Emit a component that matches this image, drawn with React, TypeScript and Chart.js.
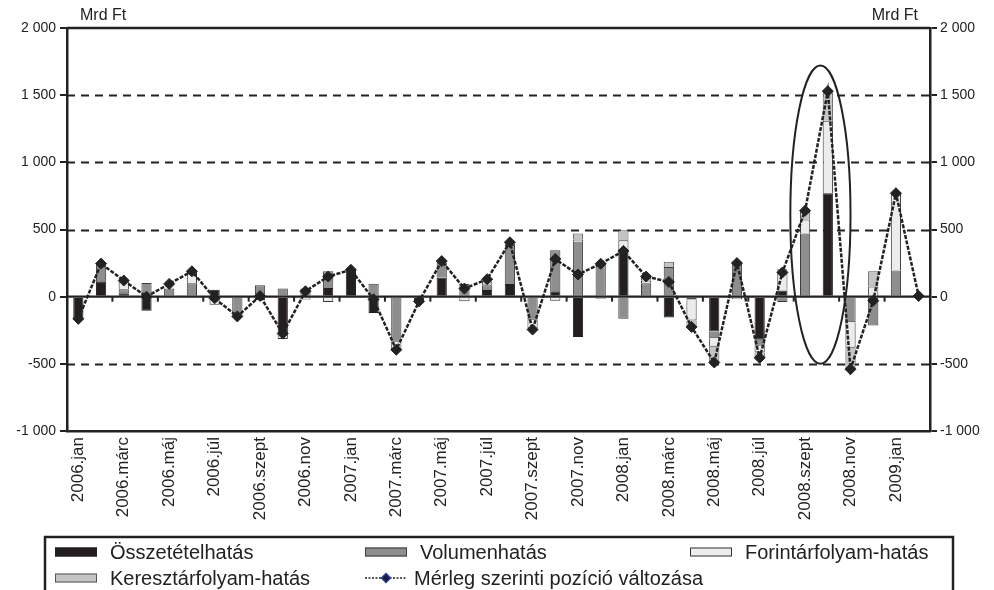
import React, { useEffect, useRef } from 'react';
import { Chart, registerables } from 'chart.js';

Chart.register(...registerables);

// ---- Data (Mrd Ft) ----
const categories = [
  '2006.jan', '2006.febr', '2006.márc', '2006.ápr', '2006.máj', '2006.jún', '2006.júl', '2006.aug', '2006.szept', '2006.okt', '2006.nov', '2006.dec',
  '2007.jan', '2007.febr', '2007.márc', '2007.ápr', '2007.máj', '2007.jún', '2007.júl', '2007.aug', '2007.szept', '2007.okt', '2007.nov', '2007.dec',
  '2008.jan', '2008.febr', '2008.márc', '2008.ápr', '2008.máj', '2008.jún', '2008.júl', '2008.aug', '2008.szept', '2008.okt', '2008.nov', '2008.dec',
  '2009.jan', '2009.febr',
];

const compositionEffect = [
  -160, 114, 25, -104, 0, 0, 52, 0, -25, -280, 0, 65,
  201, -122, 0, -30, 140, 0, 50, 95, 0, 40, -300, 0,
  355, 0, -155, -22, -260, 0, -320, 45, 0, 770, 0, -40,
  0, 5,
];

const volumeEffect = [
  0, 132, 30, 102, 60, 100, 0, -142, 85, 60, 60, 125,
  0, 97, -335, 0, 115, 95, 35, 290, -172, 305, 410, 250,
  -165, 100, 220, 0, -50, 250, -45, -40, 470, 0, -190, -175,
  195, 0,
];

const forintRateEffect = [
  0, 0, 60, 0, 0, 85, -60, 0, 0, -35, -22, -40,
  -8, 0, -60, 0, 0, -35, 0, 0, -65, -30, 15, -15,
  65, 20, 0, -155, -62, -20, -50, 130, 105, 540, -190, 75,
  580, 0,
];

const crossRateEffect = [
  0, 0, 0, 0, 0, 0, 0, 0, 0, 0, 0, 0,
  0, 0, 0, 0, 0, 0, 30, 10, 0, 0, 45, 0,
  75, 30, 40, -55, -112, 8, -35, 30, 55, 210, -160, 115,
  0, 0,
];

const positionChange = [
  -165, 246, 120, 0, 95, 189, -12, -147, 5, -275, 40, 150,
  200, -20, -395, -35, 265, 60, 130, 405, -245, 280, 165, 245,
  340, 150, 110, -225, -490, 250, -455, 180, 640, 1530, -540, -30,
  770, 5,
];

// every second month is labelled on the axis
const tickLabels = categories.map((c, i) => (i % 2 === 0 ? c : ''));

const yMin = -1000;
const yMax = 2000;
const yStep = 500;

// highlighted period (ellipse), in category index / value units
const highlightX = [31.35, 34.0];
const highlightY = [-500, 1720];

const FONT = "'Liberation Sans', Arial, Helvetica, sans-serif";
const INK = '#222222';

const fmt = (v: number) => {
  const s = Math.abs(v).toString().replace(/\B(?=(\d{3})+(?!\d))/g, ' ');
  return (v < 0 ? '-' : '') + s;
};

const seriesStyle = [
  { label: 'Összetételhatás', fill: '#231f20', stroke: '#231f20' },
  { label: 'Volumenhatás', fill: '#8e8e8e', stroke: '#3c3c3c' },
  { label: 'Forintárfolyam-hatás', fill: '#ececec', stroke: '#333333' },
  { label: 'Keresztárfolyam-hatás', fill: '#c4c4c4', stroke: '#555555' },
];

const framePlugin = {
  id: 'framePlugin',
  beforeDatasetsDraw(chart: any) {
    const { ctx, chartArea } = chart;
    const y = chart.scales.y;
    ctx.save();
    ctx.strokeStyle = INK;
    ctx.lineWidth = 2.2;
    ctx.setLineDash([8, 6]);
    y.ticks.forEach((t: any) => {
      if (t.value === 0 || t.value === yMin || t.value === yMax) return;
      const py = Math.round(y.getPixelForValue(t.value)) + 0.5;
      ctx.beginPath();
      ctx.moveTo(chartArea.left, py);
      ctx.lineTo(chartArea.right, py);
      ctx.stroke();
    });
    ctx.restore();
  },
  beforeDatasetDraw(chart: any, args: any) {
    if (args.meta.type !== 'line') return;
    const { ctx, chartArea } = chart;
    const y = chart.scales.y;
    const x = chart.scales.x;
    const py0 = y.getPixelForValue(0);
    ctx.save();
    ctx.strokeStyle = INK;
    ctx.lineWidth = 2.2;
    ctx.beginPath();
    ctx.moveTo(chartArea.left, py0);
    ctx.lineTo(chartArea.right, py0);
    ctx.stroke();
    // small tick marks on the zero line, every second category boundary
    ctx.lineWidth = 2;
    for (let i = 2; i < categories.length; i += 2) {
      const px = x.getPixelForValue(i - 0.5);
      ctx.beginPath();
      ctx.moveTo(px, py0);
      ctx.lineTo(px, py0 + 5);
      ctx.stroke();
    }
    ctx.restore();
  },
  afterDatasetsDraw(chart: any) {
    const { ctx, chartArea } = chart;
    const x = chart.scales.x;
    const y = chart.scales.y;
    ctx.save();
    // top border
    ctx.strokeStyle = INK;
    ctx.lineWidth = 2.5;
    ctx.beginPath();
    ctx.moveTo(chartArea.left, chartArea.top);
    ctx.lineTo(chartArea.right, chartArea.top);
    ctx.stroke();
    // highlight ellipse
    const x1 = x.getPixelForValue(highlightX[0]);
    const x2 = x.getPixelForValue(highlightX[1]);
    const y1 = y.getPixelForValue(highlightY[1]);
    const y2 = y.getPixelForValue(highlightY[0]);
    ctx.lineWidth = 2;
    ctx.beginPath();
    ctx.ellipse((x1 + x2) / 2, (y1 + y2) / 2, (x2 - x1) / 2, (y2 - y1) / 2, 0, 0, Math.PI * 2);
    ctx.stroke();
    ctx.restore();
  },
  afterDraw(chart: any) {
    const { ctx, chartArea, height } = chart;
    ctx.save();
    ctx.fillStyle = INK;
    ctx.font = `16px ${FONT}`;
    ctx.textBaseline = 'middle';
    ctx.textAlign = 'left';
    ctx.fillText('Mrd Ft', chartArea.left + 13, chartArea.top - 12);
    ctx.textAlign = 'right';
    ctx.fillText('Mrd Ft', chartArea.right - 12, chartArea.top - 12);

    // legend frame
    const lx1 = 45;
    const lx2 = 953;
    const ly = 537;
    ctx.strokeStyle = INK;
    ctx.lineWidth = 2.5;
    ctx.beginPath();
    ctx.moveTo(lx1, height + 2);
    ctx.lineTo(lx1, ly);
    ctx.lineTo(lx2, ly);
    ctx.lineTo(lx2, height + 2);
    ctx.stroke();

    const cols = [55, 365, 690];
    const rows = [552, 578];
    const boxW = 42;
    const boxH = 9;
    const textGap = 13;
    ctx.font = `20px ${FONT}`;
    ctx.textAlign = 'left';
    const items = [
      { col: 0, row: 0, s: seriesStyle[0] },
      { col: 1, row: 0, s: seriesStyle[1] },
      { col: 2, row: 0, s: seriesStyle[2] },
      { col: 0, row: 1, s: seriesStyle[3] },
    ];
    items.forEach(({ col, row, s }) => {
      const bx = cols[col];
      const by = rows[row];
      ctx.fillStyle = s.fill;
      ctx.fillRect(bx, by - boxH / 2, boxW, boxH);
      ctx.strokeStyle = s.stroke;
      ctx.lineWidth = 1;
      ctx.strokeRect(bx + 0.5, by - boxH / 2 + 0.5, boxW - 1, boxH - 1);
      ctx.fillStyle = INK;
      ctx.fillText(s.label, bx + boxW + textGap, by + 1);
    });
    // line sample
    const bx = cols[1];
    const by = rows[1];
    ctx.strokeStyle = INK;
    ctx.lineWidth = 1.5;
    ctx.setLineDash([2, 1.5]);
    ctx.beginPath();
    ctx.moveTo(bx, by);
    ctx.lineTo(bx + boxW, by);
    ctx.stroke();
    ctx.setLineDash([]);
    ctx.fillStyle = '#1a1a40';
    ctx.strokeStyle = '#2a3a9a';
    ctx.beginPath();
    const cx = bx + boxW / 2;
    ctx.moveTo(cx, by - 4.5);
    ctx.lineTo(cx + 4.5, by);
    ctx.lineTo(cx, by + 4.5);
    ctx.lineTo(cx - 4.5, by);
    ctx.closePath();
    ctx.fill();
    ctx.stroke();
    ctx.fillStyle = INK;
    ctx.fillText('Mérleg szerinti pozíció változása', bx + boxW + 7, by + 1);
    ctx.restore();
  },
};

export default function App() {
  const canvasRef = useRef<HTMLCanvasElement | null>(null);

  useEffect(() => {
    const canvas = canvasRef.current;
    if (!canvas) return;
    Chart.defaults.font.family = FONT;
    Chart.defaults.color = INK;

    const barCommon = {
      type: 'bar' as const,
      stack: 'effects',
      borderWidth: 1,
      barPercentage: 0.45,
      categoryPercentage: 1.0,
      yAxisID: 'y',
      order: 1,
    };

    const chart = new Chart(canvas, {
      type: 'bar',
      data: {
        labels: categories,
        datasets: [
          {
            type: 'line',
            label: 'Mérleg szerinti pozíció változása',
            data: positionChange,
            borderColor: INK,
            borderWidth: 2.5,
            borderDash: [4, 1.5],
            pointStyle: 'rectRot',
            pointRadius: 5.5,
            pointBackgroundColor: INK,
            pointBorderColor: INK,
            pointBorderWidth: 1,
            tension: 0,
            yAxisID: 'y',
            stack: 'line',
            order: -1,
          } as any,
          { ...barCommon, label: seriesStyle[0].label, data: compositionEffect, backgroundColor: seriesStyle[0].fill, borderColor: seriesStyle[0].stroke } as any,
          { ...barCommon, label: seriesStyle[1].label, data: volumeEffect, backgroundColor: seriesStyle[1].fill, borderColor: seriesStyle[1].stroke } as any,
          { ...barCommon, label: seriesStyle[2].label, data: forintRateEffect, backgroundColor: seriesStyle[2].fill, borderColor: seriesStyle[2].stroke } as any,
          { ...barCommon, label: seriesStyle[3].label, data: crossRateEffect, backgroundColor: seriesStyle[3].fill, borderColor: seriesStyle[3].stroke } as any,
        ],
      },
      options: {
        responsive: false,
        animation: false,
        layout: { padding: { top: 28, left: 0, right: 0, bottom: 0 } },
        plugins: {
          legend: { display: false },
          tooltip: { enabled: false },
        },
        scales: {
          x: {
            stacked: true,
            offset: true,
            grid: { display: false, drawTicks: false },
            border: { display: true, color: INK, width: 2.5 },
            ticks: {
              autoSkip: false,
              maxRotation: 90,
              minRotation: 90,
              padding: 6,
              color: INK,
              font: { size: 17, family: FONT },
              callback: (_v: any, i: number) => tickLabels[i],
            },
            afterFit: (s: any) => {
              s.height = 159;
            },
          },
          y: {
            position: 'left',
            stacked: true,
            min: yMin,
            max: yMax,
            grid: { drawOnChartArea: false, drawTicks: true, tickLength: 7, color: INK, lineWidth: 2 },
            border: { display: true, color: INK, width: 2.5 },
            ticks: {
              stepSize: yStep,
              padding: 4,
              color: INK,
              font: { size: 14, family: FONT },
              callback: (v: any) => fmt(Number(v)),
            },
            afterFit: (s: any) => {
              s.width = 67;
            },
          },
          y2: {
            position: 'right',
            display: true,
            min: yMin,
            max: yMax,
            grid: { drawOnChartArea: false, drawTicks: true, tickLength: 7, color: INK, lineWidth: 2 },
            border: { display: true, color: INK, width: 2.5 },
            ticks: {
              stepSize: yStep,
              padding: 3,
              color: INK,
              font: { size: 14, family: FONT },
              callback: (v: any) => fmt(Number(v)),
            },
            afterFit: (s: any) => {
              s.width = 64;
            },
          },
        },
      } as any,
      plugins: [framePlugin],
    });

    return () => {
      chart.destroy();
    };
  }, []);

  return (
    <div style={{ position: 'absolute', left: 0, top: 0, width: 994, height: 590, background: '#fff' }}>
      <canvas ref={canvasRef} width={994} height={590} style={{ display: 'block' }} />
    </div>
  );
}
